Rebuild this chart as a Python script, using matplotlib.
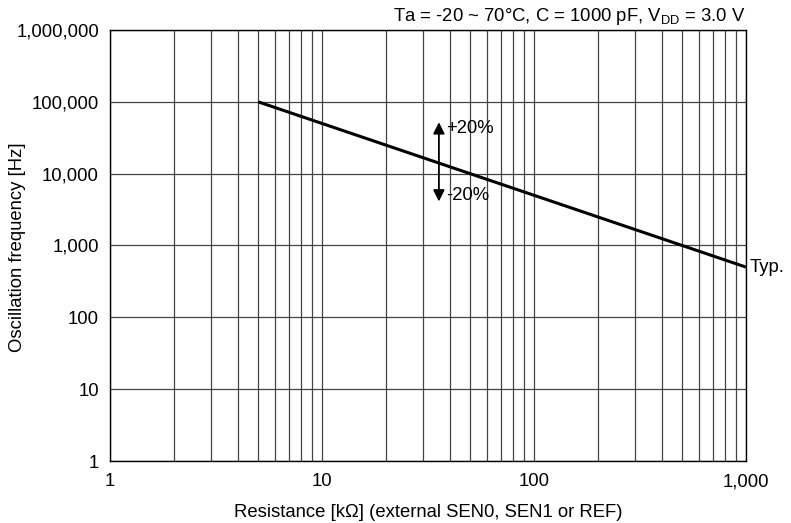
import numpy as np
import matplotlib
matplotlib.use("Agg")
import matplotlib.pyplot as plt
from matplotlib.ticker import FixedLocator, NullFormatter

plt.rcParams['font.family'] = ['Liberation Sans', 'DejaVu Sans']

# typical curve: resistance [kOhm] vs oscillation frequency [Hz]
res_k = [5, 1000]
freq_hz = [100000, 500]

x_ticks = [1, 10, 100, 1000]
x_labels = ["1", "10", "100", "1,000"]
y_ticks = [1, 10, 100, 1000, 10000, 100000, 1000000]
y_labels = ["1", "10", "100", "1,000", "10,000", "100,000", "1,000,000"]

arrow_x = 35.6
arrow_top = 52000
arrow_bottom = 4100

FS = 13.3

fig = plt.figure(figsize=(7.91, 5.23), dpi=100)
ax = fig.add_axes([110 / 791, 62 / 523, 636 / 791, 431 / 523])
ax.set_xscale('log')
ax.set_yscale('log')
ax.set_xlim(1, 1000)
ax.set_ylim(1, 1000000)

ax.xaxis.set_major_locator(FixedLocator(x_ticks))
ax.set_xticklabels(x_labels)
minor_x = [m * d for d in [1, 10, 100] for m in range(2, 10)]
ax.xaxis.set_minor_locator(FixedLocator(minor_x))
ax.xaxis.set_minor_formatter(NullFormatter())
ax.yaxis.set_major_locator(FixedLocator(y_ticks))
ax.set_yticklabels(y_labels)
ax.yaxis.set_minor_locator(FixedLocator([]))

ax.grid(True, which='major', axis='both', color='#444444', lw=0.9)
ax.grid(True, which='minor', axis='x', color='#444444', lw=0.9)
ax.tick_params(which='both', length=0, labelsize=FS, colors='black')
ax.tick_params(axis='x', pad=9)
ax.tick_params(axis='y', pad=8)
for s in ax.spines.values():
    s.set_linewidth(1.0)
    s.set_color('black')

ax.plot(res_k, freq_hz, color='black', lw=2.2, solid_capstyle='butt', zorder=3)

for tip in (arrow_top, arrow_bottom):
    ax.annotate('', xy=(arrow_x, tip), xytext=(arrow_x, 14000),
                arrowprops=dict(arrowstyle='-|>', color='black', lw=1.3,
                                mutation_scale=17, shrinkA=0, shrinkB=0))
ax.text(38.5, 42000, '+20%', fontsize=FS, va='center', ha='left')
ax.text(38.5, 5000, '-20%', fontsize=FS, va='center', ha='left')

ax.text(1040, 500, 'Typ.', fontsize=FS, va='center', ha='left', clip_on=False)

ax.text(1.0, 1.008, r'Ta = -20 ~ 70°C, C = 1000 pF, V$_{\mathregular{DD}}$ = 3.0 V',
        transform=ax.transAxes, ha='right', va='bottom', fontsize=FS)

ax.set_xlabel('Resistance [kΩ] (external SEN0, SEN1 or REF)', fontsize=FS, labelpad=10)
fig.text(18 / 791, 0.528, 'Oscillation frequency [Hz]', fontsize=FS,
         rotation=90, ha='center', va='center')

fig.savefig('out.png', dpi=100)
